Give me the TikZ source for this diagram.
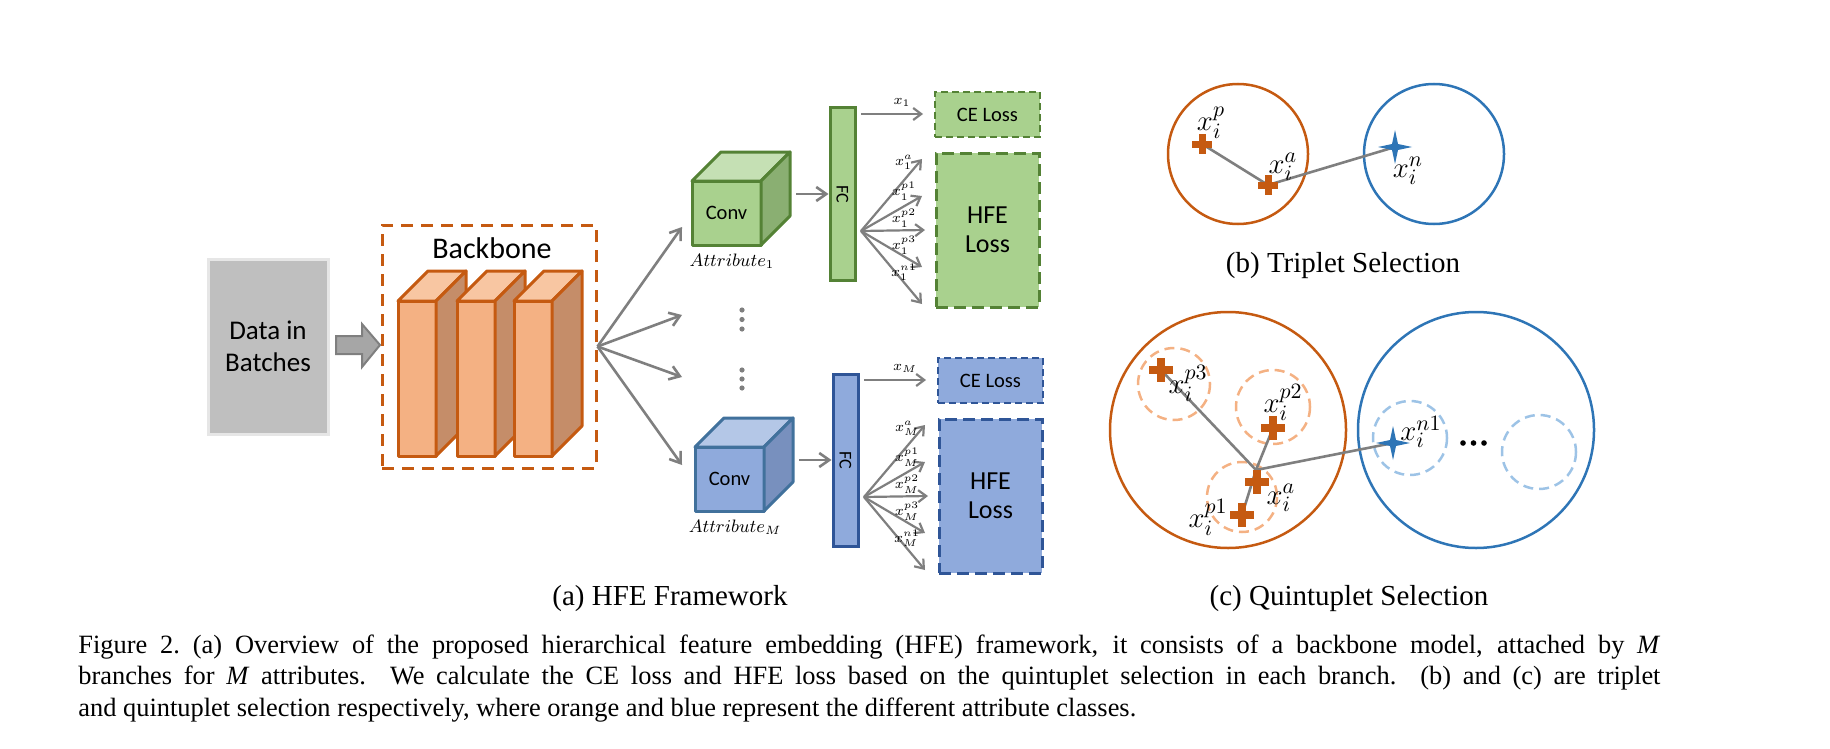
\documentclass[tikz,border=0pt]{standalone}
\usepackage[no-math]{fontspec}
\setmainfont{Liberation Serif}
\newfontfamily\calibri{Carlito}
\usetikzlibrary{arrows.meta}
\definecolor{orng}{HTML}{C55A11}
\definecolor{lorng}{HTML}{F4B183}
\definecolor{torng}{HTML}{F8C6A2}
\definecolor{sorng}{HTML}{C58D69}
\definecolor{bblue}{HTML}{2E75B6}
\definecolor{lblue}{HTML}{9DC3E6}
\definecolor{ggray}{HTML}{7F7F7F}
\definecolor{agray}{HTML}{A6A6A6}
\definecolor{dfill}{HTML}{BFBFBF}
\definecolor{dborder}{HTML}{E6E6E6}
\definecolor{gfront}{HTML}{A9D18E}
\definecolor{gtop}{HTML}{C5E0B4}
\definecolor{gside}{HTML}{8AAF72}
\definecolor{gborder}{HTML}{548235}
\definecolor{bfront}{HTML}{8FAADC}
\definecolor{btop}{HTML}{B4C7E7}
\definecolor{bside}{HTML}{7890BE}
\definecolor{bborder}{HTML}{41719C}
\definecolor{bborderb}{HTML}{2F5597}

\newcommand{\drawcuboid}[9]{%
  \filldraw[fill=#6, draw=#9, line width=1.5pt, line join=round] (#1,#2) rectangle ++(#3,#4);
  \filldraw[fill=#7, draw=#9, line width=1.5pt, line join=round] (#1,#2) -- ++(#5,-#5) -- ++(#3,0) -- ++(-#5,#5) -- cycle;
  \filldraw[fill=#8, draw=#9, line width=1.5pt, line join=round] (#1+#3,#2) -- ++(#5,-#5) -- ++(0,#4) -- ++(-#5,#5) -- cycle;
}

% #1 suffix, #2 xshift, #3 yshift, #4 front, #5 top, #6 side, #7 cube border, #8 box border, #9 subscript
\newcommand{\hfebranch}[9]{%
\begin{scope}[shift={(#2,#3)}]
  \drawcuboid{692}{181}{69}{64}{29}{#4}{#5}{#6}{#7}
  \node[font=\calibri\fontsize{10.25}{11}\selectfont] (conv#1) at (726.5,213) {Conv};
  \node[font=\fontsize{9}{11}\selectfont] (attr#1) at (732,261) {$Attribute_{#9}$};
  \node[fcbox, fill=#4, draw=#8] (fc#1) at (842.5,194) {};
  \node[rotate=-90, font=\calibri\fontsize{9}{10}\selectfont] (fct#1) at (fc#1.center) {FC};
  \coordinate (cout#1) at (796,194);
  \draw[arr] (cout#1) -- (fc#1.west);
  \node[cebox, fill=#4, draw=#8] (ce#1) at (987.5,114.5) {CE Loss};
  \node[hfebox, fill=#4, draw=#8] (hfe#1) at (987.5,230) {HFE\\Loss};
  \coordinate (xo#1) at (861,114);
  \coordinate (xe#1) at (923,114);
  \draw[fan] (xo#1) -- (xe#1);
  \node[lab] (xl#1) at (902,102) {$x_{#9}$};
  \coordinate (fo#1) at (861,231);
  \coordinate (ea#1) at (922,159);
  \coordinate (eb#1) at (922,196);
  \coordinate (ec#1) at (925,230);
  \coordinate (ed#1) at (922,267);
  \coordinate (ee#1) at (922,304);
  \foreach \e in {ea,eb,ec,ed,ee} \draw[fan] (fo#1) -- (\e#1);
  \node[lab] (la#1) at (904,162) {$x_{#9}^{a}$};
  \node[lab] (lb#1) at (904,191) {$x_{#9}^{p1}$};
  \node[lab] (lc#1) at (904,218) {$x_{#9}^{p2}$};
  \node[lab] (ld#1) at (904,245) {$x_{#9}^{p3}$};
  \node[lab] (le#1) at (904,272) {$x_{#9}^{n1}$};
\end{scope}
}

\begin{document}
\begin{tikzpicture}[x=0.5pt,y=-0.5pt,
  arr/.style={draw=ggray, line width=1.3pt, -{Straight Barb[length=5pt,width=7pt]}},
  fan/.style={draw=ggray, line width=1.1pt, -{Straight Barb[length=4pt,width=6pt]}},
  link/.style={draw=ggray, line width=1.3pt},
  fcbox/.style={rectangle, line width=1.5pt, minimum width=12.5pt, minimum height=86pt, inner sep=0},
  cebox/.style={rectangle, line width=1pt, dash pattern=on 3.5pt off 2pt, minimum width=52.5pt, minimum height=22.5pt, inner sep=0, font=\calibri\fontsize{10.25}{12}\selectfont},
  hfebox/.style={rectangle, line width=1.5pt, dash pattern=on 6pt off 3pt, minimum width=51.5pt, minimum height=77pt, inner sep=0, align=center, font=\calibri\fontsize{13}{14.5}\selectfont},
  lab/.style={inner sep=0, font=\fontsize{7.5}{9}\selectfont},
  mlab/.style={inner sep=0, font=\fontsize{15}{17}\selectfont},
  sub/.style={anchor=base, inner sep=0, font=\fontsize{14.5}{17}\selectfont},
  smallplus/.pic={\fill[orng] (-10,-3.5) rectangle (10,3.5); \fill[orng] (-3.5,-10) rectangle (3.5,10);},
  bigplus/.pic={\fill[orng] (-12,-4) rectangle (12,4); \fill[orng] (-4,-12) rectangle (4,12);},
  bstar/.pic={\fill[bblue] (0,-17) -- (3,-3) -- (17,0) -- (3,3) -- (0,17) -- (-3,3) -- (-17,0) -- (-3,-3) -- cycle;}
]
\useasboundingbox (0,0) rectangle (1830,749);

% ---------- (a) framework ----------
\node[draw=dborder, fill=dfill, line width=1.5pt, minimum width=60pt, minimum height=87.5pt, inner sep=0, align=center, font=\calibri\fontsize{13.5}{16}\selectfont] (data) at (268,346.5) {Data in\\Batches};
\filldraw[fill=agray, draw=ggray, line width=1pt] (336,336) -- (362,336) -- (362,324) -- (380,345) -- (362,367) -- (362,354) -- (336,354) -- cycle;

\node[draw=orng, line width=1.5pt, dash pattern=on 6pt off 4pt, minimum width=107pt, minimum height=121.5pt, inner sep=0] (backbone) at (489,346.5) {};
\node[font=\calibri\fontsize{15}{18}\selectfont] (bblabel) at (492,248) {Backbone};
\drawcuboid{398}{301}{38}{155}{30}{lorng}{torng}{sorng}{orng}
\drawcuboid{457}{301}{38}{155}{30}{lorng}{torng}{sorng}{orng}
\drawcuboid{514}{301}{38}{155}{30}{lorng}{torng}{sorng}{orng}

\coordinate (t1) at (682,227);
\coordinate (t2) at (682,315);
\coordinate (t3) at (682,377);
\coordinate (t4) at (682,465);
\foreach \t in {t1,t2,t3,t4} \draw[arr] (backbone.east) -- (\t);
\foreach \y in {310,319.5,329,370,379,388} \fill[ggray] (742,\y) circle[radius=2.6];

\hfebranch{g}{0}{0}{gfront}{gtop}{gside}{gborder}{gborder}{1}
\hfebranch{b}{3}{266}{bfront}{btop}{bside}{bborder}{bborderb}{M}

\node[sub] (capa) at (670,605) {(a) HFE Framework};

% ---------- (b) triplet ----------
\draw[orng, line width=1.25pt] (1238,154) circle[radius=70];
\draw[bblue, line width=1.25pt] (1434,154) circle[radius=70];
\coordinate (tp) at (1202,144);
\coordinate (ta) at (1268,185);
\coordinate (tn) at (1395,147);
\draw[link] (tp) -- (ta) -- (tn);
\pic at (tp) {smallplus};
\pic at (ta) {smallplus};
\pic at (tn) {bstar};
\node[mlab] (ltp) at (1211,123) {$x_i^p$};
\node[mlab] (lta) at (1283,167) {$x_i^a$};
\node[mlab] (ltn) at (1408,171) {$x_i^n$};
\node[sub] (capb) at (1343,272) {(b) Triplet Selection};

% ---------- (c) quintuplet ----------
\draw[orng, line width=1.25pt] (1228,430) circle[radius=118];
\draw[bblue, line width=1.25pt] (1476,430) circle[radius=118];
\begin{scope}[line width=1.25pt, dash pattern=on 5pt off 3pt]
  \draw[lorng] (1174,384) circle[radius=36];
  \draw[lorng] (1273,407) circle[radius=37];
  \draw[lorng] (1242,497) circle[radius=35];
  \draw[lblue] (1410,438) circle[radius=37];
  \draw[lblue] (1539,452) circle[radius=37];
\end{scope}
\coordinate (qp3) at (1161,370);
\coordinate (qp2) at (1273,428);
\coordinate (qa) at (1257,482);
\coordinate (qp1) at (1242,515);
\coordinate (qj) at (1256,470);
\coordinate (qn) at (1393,443);
\draw[link] (qj) -- (qp3);
\draw[link] (qj) -- (qp2);
\draw[link] (qj) -- (qp1);
\draw[link] (qj) -- (qn);
\pic at (qp3) {bigplus};
\pic at (qp2) {bigplus};
\pic at (qa) {bigplus};
\pic at (qp1) {bigplus};
\pic at (qn) {bstar};
\node[mlab] (lq3) at (1188,383) {$x_i^{p3}$};
\node[mlab] (lq2) at (1283,402) {$x_i^{p2}$};
\node[mlab] (lqn) at (1421,432) {$x_i^{n1}$};
\node[mlab] (lqa) at (1281,498) {$x_i^{a}$};
\node[mlab] (lq1) at (1208,517) {$x_i^{p1}$};
\foreach \x in {1463,1473.5,1484} \fill[black] (\x,443) circle[radius=2.8];
\node[sub] (capc) at (1349,605) {(c) Quintuplet Selection};

% ---------- caption ----------
\node[anchor=base west, text width=791pt, align=justify, inner sep=0, font=\fontsize{13.2}{15.75}\selectfont] (caption) at (78,653) {Figure 2.\ (a) Overview of the proposed hierarchical feature embedding (HFE) framework, it consists of a backbone model, attached by \textit{M}\linebreak branches for \textit{M} attributes. We calculate the CE loss and HFE loss based on the quintuplet selection in each branch. (b) and (c) are triplet\linebreak and quintuplet selection respectively, where orange and blue represent the different attribute classes.};
\end{tikzpicture}
\end{document}
